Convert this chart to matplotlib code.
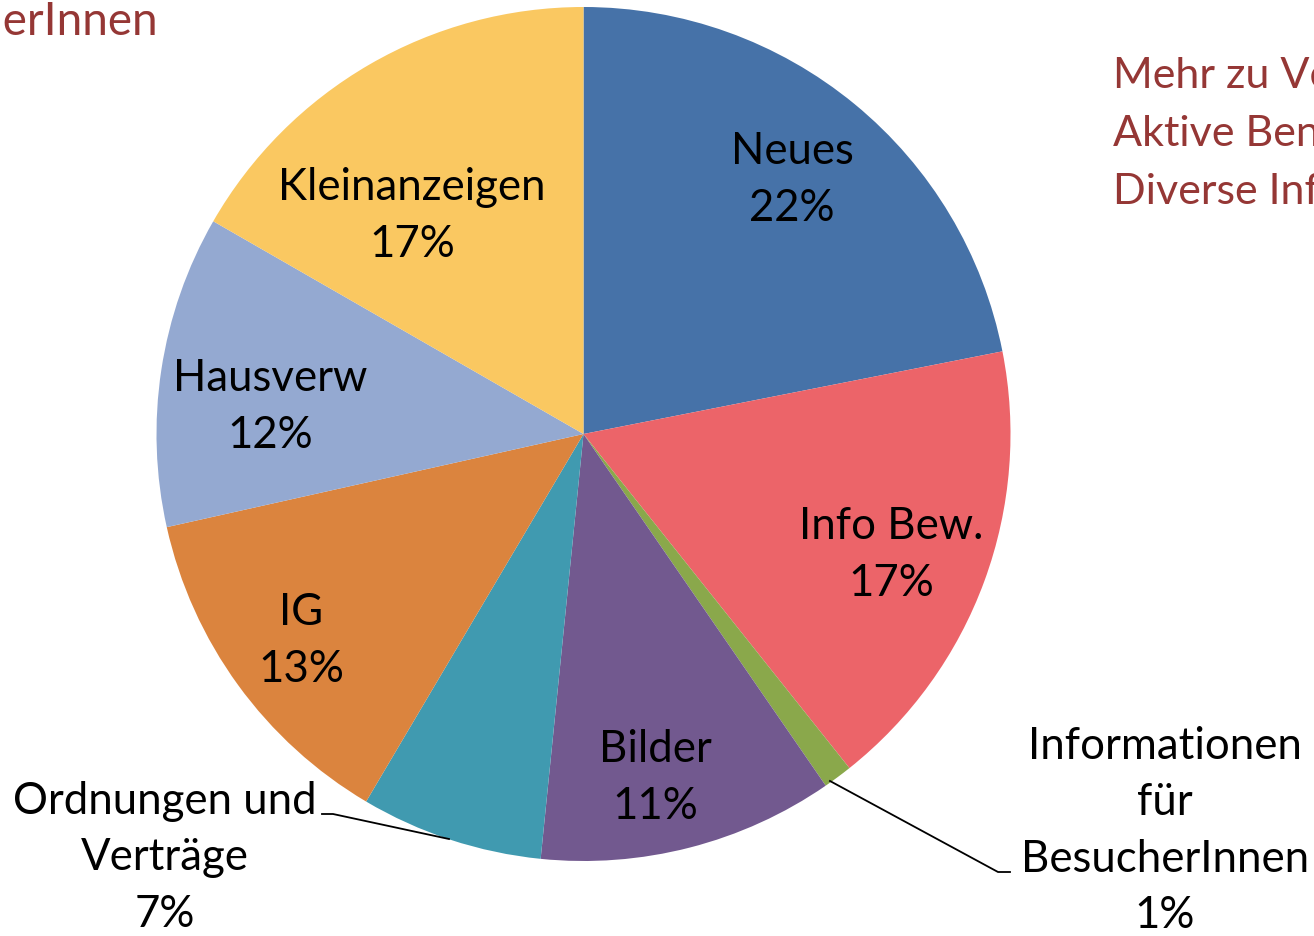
import matplotlib.pyplot as plt

# Anteile der Seitenbereiche (im Uhrzeigersinn ab 12 Uhr)
labels = ["Neues", "Info Bew.", "Informationen\nfür\nBesucherInnen", "Bilder",
          "Ordnungen und\nVerträge", "IG", "Hausverw", "Kleinanzeigen"]
shares = [21.9, 17.4, 1.1, 11.2, 6.9, 13.0, 11.8, 16.7]
colors = ["#4672A8", "#EC6469", "#8AA84B", "#72598F",
          "#409AB0", "#DB843E", "#94A9D1", "#FAC861"]

W, H = 1314, 937
plt.rcParams['font.family'] = ['Lato', 'DejaVu Sans']

fig = plt.figure(figsize=(W / 100, H / 100), dpi=100)
ax = fig.add_axes([0, 0, 1, 1])

cx, cy, r = 583.5, H - 435, 427
wedges, _ = ax.pie(shares, colors=colors, startangle=90, counterclock=False,
                   center=(cx, cy), radius=r, frame=True)
ax.set_xlim(0, W)
ax.set_ylim(0, H)
ax.set_aspect('equal')
ax.axis('off')

fs = 31.5
ls = 1.47
# Beschriftungen innerhalb der Segmente (x, y von oben)
inside_pos = {0: (792, 180), 1: (891, 555), 3: (655, 778),
              5: (301, 641), 6: (270, 407), 7: (412, 216)}
for i, (x, y) in inside_pos.items():
    ax.text(x, H - y, f"{labels[i]}\n{shares[i]:.0f}%", ha='center', va='center',
            fontsize=fs, linespacing=ls)

# Beschriftungen ausserhalb mit Führungslinien
ax.text(165, H - 858, f"{labels[4]}\n{shares[4]:.0f}%", ha='center', va='center',
        fontsize=fs, linespacing=ls)
ax.plot([449, 333, 322], [H - 840, H - 815, H - 815], color='black', lw=1.3)

ax.text(1165, H - 831, f"{labels[2]}\n{shares[2]:.0f}%", ha='center', va='center',
        fontsize=fs, linespacing=ls)
ax.plot([830, 998, 1010], [H - 782, H - 873, H - 873], color='black', lw=1.3)

# Folientext am Rand
red = "#953735"
ax.text(158, H - 22, "BesucherInnen", ha='right', va='center', fontsize=33, color=red)
for k, line in enumerate(["Mehr zu Verträgen", "Aktive BenutzerInnen", "Diverse Infos"]):
    ax.text(1113, H - (76 + k * 58), line, ha='left', va='center', fontsize=31, color=red)

fig.savefig("out.png", dpi=100)
